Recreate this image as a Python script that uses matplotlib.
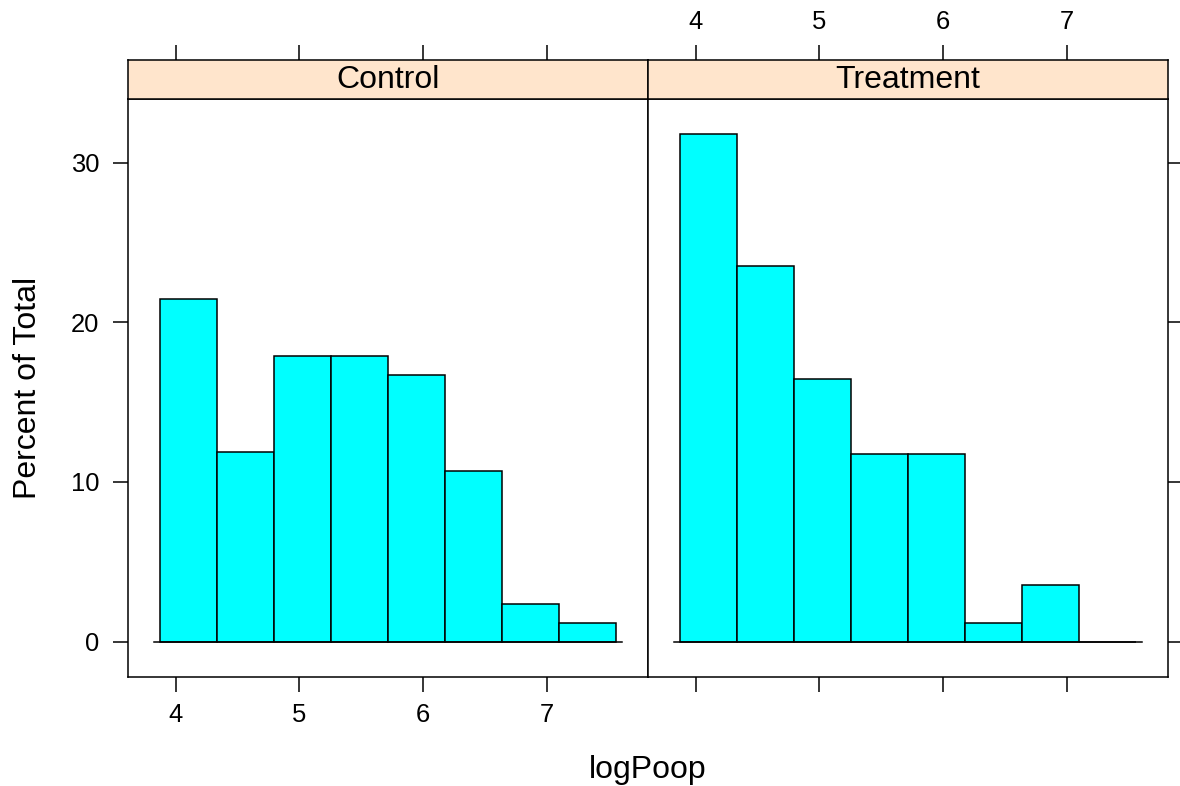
import matplotlib
matplotlib.use("Agg")
import matplotlib.pyplot as plt
import numpy as np

plt.rcParams['font.family'] = ['Liberation Sans', 'DejaVu Sans']

# ---- data ----
panels = ["Control", "Treatment"]
breaks = [3.872, 4.333, 4.794, 5.255, 5.716, 6.177, 6.638, 7.099, 7.559]
control_pct = [21.43, 11.90, 17.86, 17.86, 16.67, 10.71, 2.38, 1.19]
treatment_pct = [31.76, 23.53, 16.47, 11.76, 11.76, 1.18, 3.53, 0.0]
x_ticks = [4, 5, 6, 7]
y_ticks = [0, 10, 20, 30]
x_label = "logPoop"
y_label = "Percent of Total"

series = [control_pct, treatment_pct]

W, H = 1180, 786
fig = plt.figure(figsize=(W / 100, H / 100), dpi=100)

b = np.array(breaks)
rng = b[-1] - b[0]
xlim = (b[0] - 0.07 * rng, b[-1] + 0.07 * rng)
ymax = max(max(control_pct), max(treatment_pct))
ylim = (-0.07 * ymax, 1.07 * ymax)

px_left, px_mid, px_right = 128, 648, 1168
px_strip_top, px_panel_top, px_panel_bot = 60, 99, 677

tick_len = 10.8
tick_fs = 18.4
lab_fs = 23
lw = 1.1

def fx(px):
    return px / W

def fy(py):
    return 1 - py / H

for i, (name, vals) in enumerate(zip(panels, series)):
    l = px_left + i * (px_mid - px_left)
    r = l + (px_mid - px_left)
    ax = fig.add_axes([fx(l), fy(px_panel_bot), fx(r) - fx(l), fy(px_panel_top) - fy(px_panel_bot)])
    ax.bar(b[:-1], vals, width=np.diff(b), align='edge', color='#00FFFF',
           edgecolor='black', linewidth=lw, zorder=2)
    pad = 0.014 * rng
    ax.plot([b[0] - pad, b[-1] + pad], [0, 0], color='black', lw=lw, zorder=3)
    ax.set_xlim(*xlim)
    ax.set_ylim(*ylim)
    for s in ax.spines.values():
        s.set_linewidth(lw)
    ax.set_xticks(x_ticks)
    ax.set_yticks(y_ticks)
    ax.tick_params(axis='x', direction='out', length=tick_len, width=lw, labelsize=tick_fs, pad=8)
    ax.tick_params(axis='y', direction='out', length=tick_len, width=lw, labelsize=tick_fs, pad=10)
    if i == 0:
        ax.tick_params(axis='x', bottom=True, labelbottom=True, top=False)
        ax.tick_params(axis='y', left=True, labelleft=True, right=False)
    else:
        ax.tick_params(axis='x', bottom=True, labelbottom=False, top=False)
        ax.tick_params(axis='y', left=False, labelleft=False, right=True, labelright=False)

    # strip
    sax = fig.add_axes([fx(l), fy(px_panel_top), fx(r) - fx(l), fy(px_strip_top) - fy(px_panel_top)])
    sax.set_facecolor('#FFE5CC')
    sax.set_xlim(*xlim)
    sax.set_ylim(0, 1)
    sax.set_yticks([])
    for s in sax.spines.values():
        s.set_linewidth(lw)
    sax.text(0.5, 0.48, name, transform=sax.transAxes, ha='center', va='center', fontsize=lab_fs)
    sax.set_xticks(x_ticks)
    sax.tick_params(axis='x', direction='out', length=tick_len, width=lw, labelsize=tick_fs, pad=8,
                    bottom=False, labelbottom=False, top=True, labeltop=(i == 1))

fig.text(fx((px_left + px_right) / 2), fy(770), x_label, ha='center', va='center', fontsize=lab_fs)
fig.text(fx(28), fy((px_panel_top + px_panel_bot) / 2), y_label, ha='center', va='center',
         rotation=90, fontsize=lab_fs)

fig.savefig("out.png", dpi=100)
